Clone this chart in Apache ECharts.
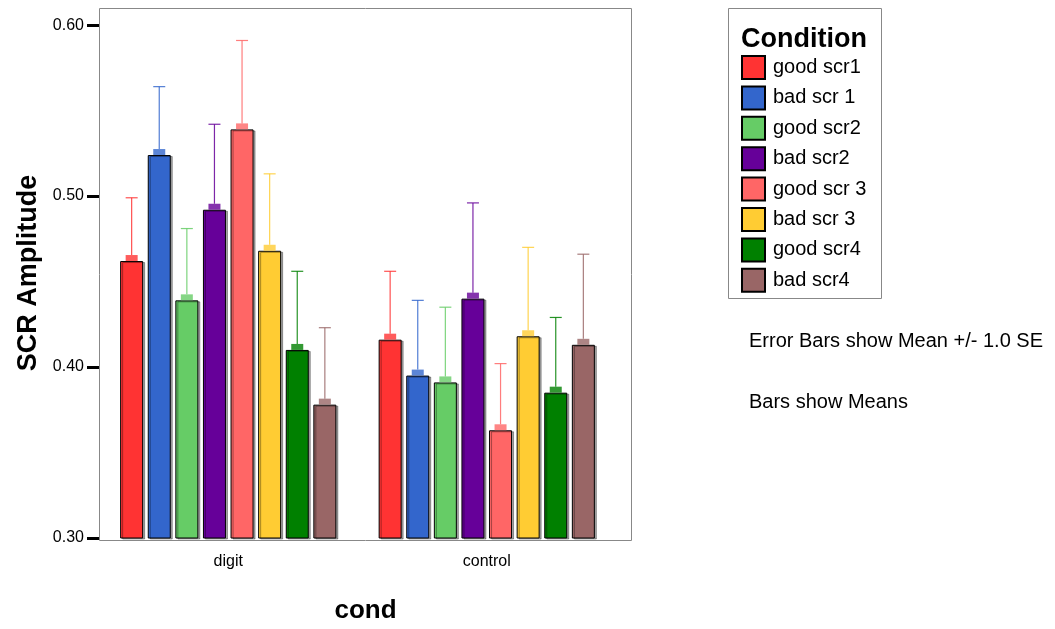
<!DOCTYPE html>
<html>
<head>
<meta charset="utf-8">
<script src="https://cdn.jsdelivr.net/npm/echarts@6/dist/echarts.min.js"></script>
<style>
  html, body { margin: 0; padding: 0; background: #fff; }
  #myChart { width: 1055px; height: 629px; }
</style>
</head>
<body>
<div id="myChart"></div>
<script>
// data
const categories = ['digit', 'control']
const conditions = ['good scr1', 'bad scr 1', 'good scr2', 'bad scr2', 'good scr 3', 'bad scr 3', 'good scr4', 'bad scr4']
const meanDigit = [0.462, 0.524, 0.439, 0.492, 0.539, 0.468, 0.410, 0.378]
const meanControl = [0.416, 0.395, 0.391, 0.440, 0.363, 0.418, 0.385, 0.413]
const upperDigit = [0.499, 0.564, 0.481, 0.542, 0.591, 0.513, 0.456, 0.423]
const upperControl = [0.456, 0.439, 0.435, 0.496, 0.402, 0.470, 0.429, 0.466]
const yTicks = [0.30, 0.40, 0.50, 0.60]

const colors = ['#ff3333', '#3366cc', '#66cc66', '#660099', '#ff6666', '#ffcc33', '#008000', '#996666']
const FONT = 'Liberation Sans, Arial, sans-serif'
const BAR_W = 23
const BAR_GAP = 0.2
const STEP = BAR_W * (1 + BAR_GAP)

const barSeries = conditions.map((name, i) => ({
  name: name,
  type: 'bar',
  barWidth: BAR_W,
  barGap: (BAR_GAP * 100) + '%',
  data: [meanDigit[i], meanControl[i]],
  itemStyle: {
    color: colors[i],
    borderColor: '#000',
    borderWidth: 1,
    shadowColor: 'rgba(0,0,0,0.35)',
    shadowOffsetX: 2,
    shadowOffsetY: 1,
  },
  emphasis: { disabled: true },
}))

// error bar data: [category, condition index, mean, mean + SE]
const errData = []
conditions.forEach((c, i) => {
  errData.push([0, i, meanDigit[i], upperDigit[i]])
  errData.push([1, i, meanControl[i], upperControl[i]])
})

const errSeries = {
  type: 'custom',
  data: errData,
  encode: { x: 0, y: 3 },
  z: 3,
  renderItem(params, api) {
    const cat = api.value(0)
    const s = api.value(1)
    const base = api.coord([cat, api.value(2)])
    const top = api.coord([cat, api.value(3)])
    const x = base[0] + (s - 3.5) * STEP
    const col = colors[s]
    return {
      type: 'group',
      children: [
        { type: 'rect', shape: { x: x - 6, y: base[1] - 6, width: 12, height: 6 }, style: { fill: col, opacity: 0.8 } },
        { type: 'line', shape: { x1: x, y1: base[1] - 6, x2: x, y2: top[1] }, style: { stroke: col, lineWidth: 1.2, opacity: 0.85 } },
        { type: 'line', shape: { x1: x - 6, y1: top[1], x2: x + 6, y2: top[1] }, style: { stroke: col, lineWidth: 1.2, opacity: 0.85 } },
      ],
    }
  },
}

const option = {
  animation: false,
  textStyle: { fontFamily: FONT },
  grid: { left: 99, right: 439, top: 8, bottom: 88 },
  legend: {
    data: conditions,
    orient: 'vertical',
    left: 741,
    top: 55,
    padding: 0,
    icon: 'rect',
    itemWidth: 23,
    itemHeight: 23,
    itemGap: 5.4,
    textStyle: { fontSize: 20, lineHeight: 23, color: '#000', fontFamily: FONT, padding: [0, 0, 0, 3] },
  },
  xAxis: {
    type: 'category',
    data: categories,
    name: 'cond',
    nameLocation: 'middle',
    nameGap: 60,
    nameTextStyle: { fontSize: 26, fontWeight: 'bold', color: '#000', fontFamily: FONT, padding: [0, 0, 0, 16] },
    axisLine: { show: false },
    axisTick: { alignWithLabel: true, length: 10, lineStyle: { color: '#000', width: 3 } },
    axisLabel: { fontSize: 16, color: '#000', margin: 16, fontFamily: FONT },
  },
  yAxis: {
    type: 'value',
    min: 0.30,
    max: 0.61,
    name: 'SCR Amplitude',
    nameLocation: 'middle',
    nameGap: 57,
    nameRotate: 90,
    nameTextStyle: { fontSize: 27, fontWeight: 'bold', color: '#000', fontFamily: FONT },
    splitLine: { show: false },
    axisLine: { show: false },
    axisTick: { show: true, length: 12, customValues: yTicks, lineStyle: { color: '#000', width: 3 } },
    axisLabel: {
      customValues: yTicks,
      fontSize: 16, color: '#000', margin: 15, fontFamily: FONT,
      formatter: v => v.toFixed(2),
    },
  },
  graphic: [
    { type: 'rect', shape: { x: 99.5, y: 8.5, width: 532, height: 532 }, style: { fill: null, stroke: '#888', lineWidth: 1 }, z: -1 },
    { type: 'rect', shape: { x: 728.5, y: 8.5, width: 153, height: 290 }, style: { fill: null, stroke: '#888', lineWidth: 1 } },
    { type: 'text', left: 741, top: 26, style: { text: 'Condition', fontSize: 27, fontWeight: 'bold', fill: '#000', fontFamily: FONT } },
    { type: 'text', left: 749, top: 331, style: { text: 'Error Bars show Mean +/- 1.0 SE', fontSize: 20, fill: '#000', fontFamily: FONT } },
    { type: 'text', left: 749, top: 392, style: { text: 'Bars show Means', fontSize: 20, fill: '#000', fontFamily: FONT } },
  ],
  series: [...barSeries, errSeries],
}

let chart = echarts.init(document.getElementById('myChart'))
chart.setOption(option)
</script>
</body>
</html>
